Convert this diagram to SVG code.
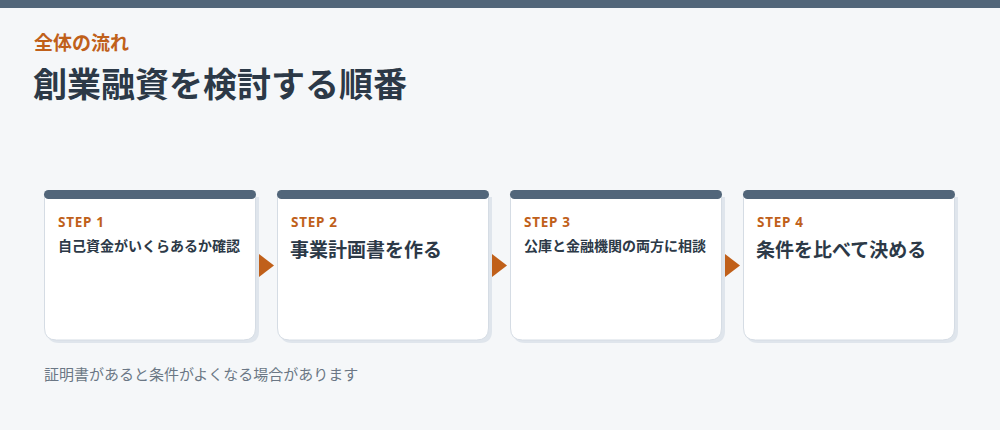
<svg xmlns="http://www.w3.org/2000/svg" width="1000" height="430" viewBox="0 0 1000 430">
<defs>
<style>
.jp{font-family:"Noto Sans CJK JP","Noto Sans",sans-serif}
.step{font-family:"Noto Sans","Noto Sans CJK JP",sans-serif;font-weight:700;font-size:13.5px;letter-spacing:0.7px;fill:#c0601a}
.lbl{font-family:"Noto Sans CJK JP",sans-serif;font-weight:700;fill:#2c3947}
.shadow{fill:#dfe5ec}
.card{fill:#ffffff;stroke:#d5dce4;stroke-width:1}
.bar{fill:#52667a}
.arr{fill:#c0601a}
</style>
</defs>
<rect x="0" y="0" width="1000" height="430" fill="#f5f7f9"/>
<rect x="0" y="0" width="1000" height="8" fill="#52667a"/>
<text x="34" y="50" class="jp" font-size="19" font-weight="700" fill="#c0601a">全体の流れ</text>
<text x="33" y="97" class="jp" font-size="34" font-weight="700" fill="#2c3947">創業融資を検討する順番</text>

<g id="step1">
<path class="shadow" d="M47 197 H259 V331 Q259 343 247 343 H59 Q47 343 47 331 Z"/>
<path class="card" d="M44.5 194 H255.5 V328 Q255.5 340 243.5 340 H56.5 Q44.5 340 44.5 328 Z"/>
<rect class="bar" x="44" y="190" width="212" height="9" rx="4.5"/>
<text x="58" y="227" class="step">STEP 1</text>
<text x="58" y="251" class="lbl" font-size="14">自己資金がいくらあるか確認</text>
</g>
<g id="step2">
<path class="shadow" d="M280 197 H492 V331 Q492 343 480 343 H292 Q280 343 280 331 Z"/>
<path class="card" d="M277.5 194 H488.5 V328 Q488.5 340 476.5 340 H289.5 Q277.5 340 277.5 328 Z"/>
<rect class="bar" x="277" y="190" width="212" height="9" rx="4.5"/>
<text x="291" y="227" class="step">STEP 2</text>
<text x="290" y="257" class="lbl" font-size="19">事業計画書を作る</text>
</g>
<g id="step3">
<path class="shadow" d="M513 197 H725 V331 Q725 343 713 343 H525 Q513 343 513 331 Z"/>
<path class="card" d="M510.5 194 H721.5 V328 Q721.5 340 709.5 340 H522.5 Q510.5 340 510.5 328 Z"/>
<rect class="bar" x="510" y="190" width="212" height="9" rx="4.5"/>
<text x="524" y="227" class="step">STEP 3</text>
<text x="524" y="251" class="lbl" font-size="14">公庫と金融機関の両方に相談</text>
</g>
<g id="step4">
<path class="shadow" d="M746 197 H958 V331 Q958 343 946 343 H758 Q746 343 746 331 Z"/>
<path class="card" d="M743.5 194 H954.5 V328 Q954.5 340 942.5 340 H755.5 Q743.5 340 743.5 328 Z"/>
<rect class="bar" x="743" y="190" width="212" height="9" rx="4.5"/>
<text x="757" y="227" class="step">STEP 4</text>
<text x="756" y="257" class="lbl" font-size="19">条件を比べて決める</text>
</g>

<g id="connectors">
<polygon class="arr" points="259,254 274,265.5 259,277"/>
<polygon class="arr" points="492,254 507,265.5 492,277"/>
<polygon class="arr" points="725,254 740,265.5 725,277"/>
</g>

<text x="44" y="380" class="jp" font-size="15" fill="#6b7785">証明書があると条件がよくなる場合があります</text>
</svg>
